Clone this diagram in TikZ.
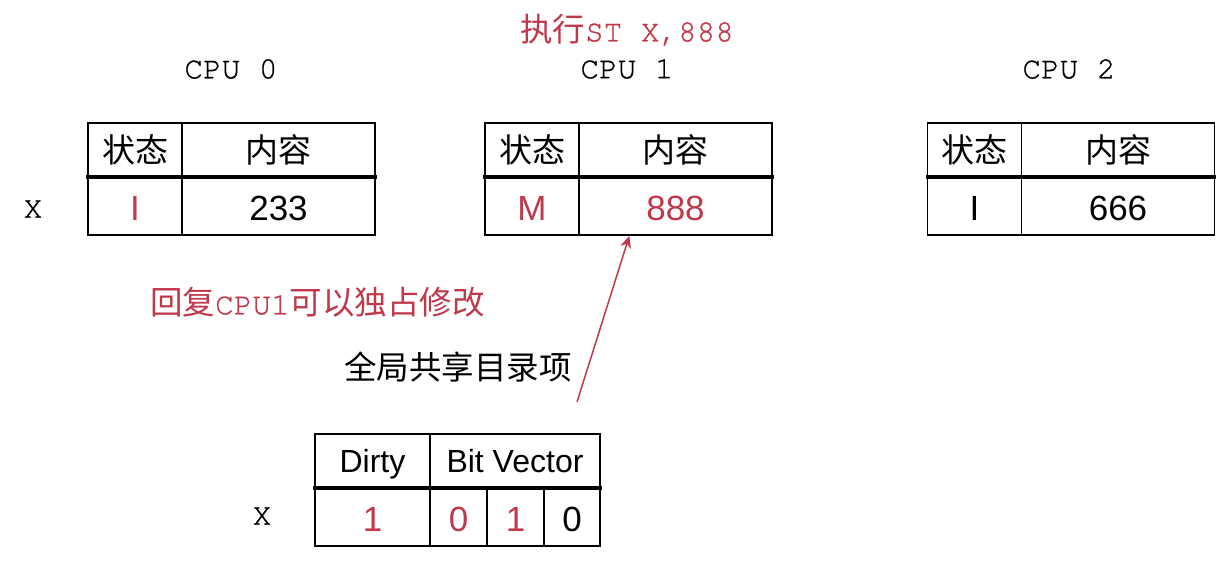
\documentclass[tikz,border=0pt]{standalone}
\usepackage{fontspec}
\setmainfont{Liberation Sans}
\newfontfamily\cjk{Noto Sans CJK SC}
\newfontfamily\mono{texgyrecursor-regular.otf}[FakeBold=0.8]
\usetikzlibrary{arrows.meta}
\definecolor{hl}{RGB}{192,56,75}
\tikzset{
  cell/.style={draw=black, line width=1.8pt, inner sep=0pt, outer sep=0pt, anchor=center},
  midline/.style={line width=3.6pt, line cap=rect},
  headtxt/.style={font=\cjk\fontsize{33}{35}\selectfont},
  valtxt/.style={font=\fontsize{35}{38}\selectfont, text height=29pt, text depth=0pt},
  engtxt/.style={font=\fontsize{32}{34}\selectfont, text height=22.9pt, text depth=0pt},
  cpulbl/.style={font=\mono\fontsize{31}{33}\selectfont, inner sep=0pt},
  xlbl/.style={font=\mono\fontsize{31}{33}\selectfont, inner sep=0pt},
  note/.style={font=\cjk\fontsize{32.5}{35}\selectfont, inner sep=0pt},
  msg/.style={draw=hl, line width=1.5pt, -{Stealth[length=12pt,width=11pt]}},
}
\begin{document}
\begin{tikzpicture}[x=1pt,y=-1pt]
\useasboundingbox (0,0) rectangle (1218,562);
% CPU 0
\node[cell, minimum width=94, minimum height=54, headtxt] (s0h) at (135,150) {状态};
\node[cell, minimum width=193, minimum height=54, headtxt] (c0h) at (278.5,150) {内容};
\node[cell, minimum width=94, minimum height=58, valtxt, text=hl] (s0v) at (135,206) {I};
\node[cell, minimum width=193, minimum height=58, valtxt] (c0v) at (278.5,206) {233};
\draw[midline] (s0h.south west) -- (c0h.south east);
% CPU 1
\node[cell, minimum width=94, minimum height=54, headtxt] (s1h) at (532,150) {状态};
\node[cell, minimum width=193, minimum height=54, headtxt] (c1h) at (675.5,150) {内容};
\node[cell, minimum width=94, minimum height=58, valtxt, text=hl] (s1v) at (532,206) {M};
\node[cell, minimum width=193, minimum height=58, valtxt, text=hl] (c1v) at (675.5,206) {888};
\draw[midline] (s1h.south west) -- (c1h.south east);
% CPU 2
\node[cell, minimum width=94, minimum height=54, headtxt] (s2h) at (974.5,150) {状态};
\node[cell, minimum width=193, minimum height=54, headtxt] (c2h) at (1118,150) {内容};
\node[cell, minimum width=94, minimum height=58, valtxt] (s2v) at (974.5,206) {I};
\node[cell, minimum width=193, minimum height=58, valtxt] (c2v) at (1118,206) {666};
\draw[midline] (s2h.south west) -- (c2h.south east);
% labels
\node[cpulbl] (cpu0) at (231,69) {CPU 0};
\node[cpulbl] (cpu1) at (627,69) {CPU 1};
\node[cpulbl] (cpu2) at (1069,69) {CPU 2};
\node[inner sep=0pt, text=hl] (exec) at (627,30) {{\cjk\fontsize{32.5}{35}\selectfont 执行}{\mono\fontsize{31}{33}\selectfont ST X,888}};
\node[xlbl] (x0) at (33,209) {X};
\node[xlbl] (x1) at (262,516) {X};
% directory
\node[cell, minimum width=115, minimum height=54, engtxt] (dh) at (372.5,461) {Dirty};
\node[cell, minimum width=170, minimum height=54, engtxt] (bh) at (515,461) {Bit Vector};
\node[cell, minimum width=115, minimum height=58, valtxt, text=hl] (dv) at (372.5,517) {1};
\node[cell, minimum width=57, minimum height=58, valtxt, text=hl] (b0) at (458.5,517) {0};
\node[cell, minimum width=57, minimum height=58, valtxt, text=hl] (b1) at (515.5,517) {1};
\node[cell, minimum width=56, minimum height=58, valtxt] (b2) at (572,517) {0};
\draw[midline] (dh.south west) -- (bh.south east);
% notes
\node[note, text=hl, anchor=west] (reply) at (150,302) {回复{\mono\fontsize{31}{33}\selectfont CPU1}可以独占修改};
\node[note] (dir) at (458,367) {全局共享目录项};
% arrow
\coordinate (atail) at (577,402);
\coordinate (atip) at (629.3,236);
\draw[msg] (atail) -- (atip);
\end{tikzpicture}
\end{document}
